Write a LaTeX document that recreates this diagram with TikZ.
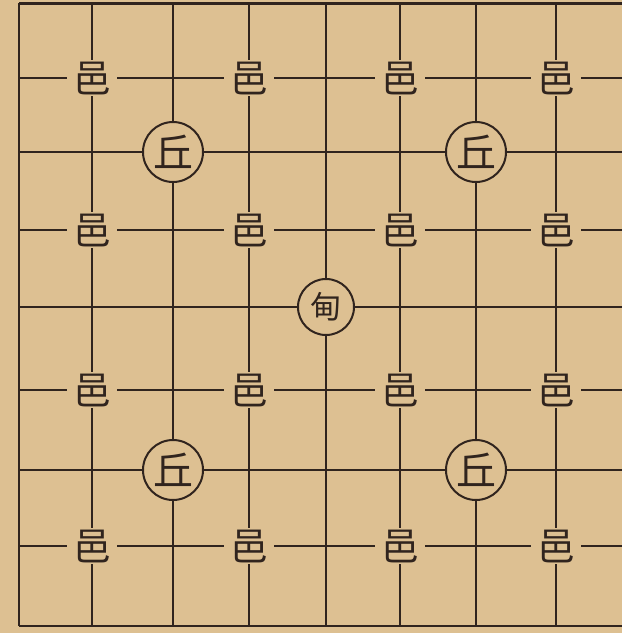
\documentclass[tikz,border=0pt]{standalone}
\usepackage{fontspec}
\newfontfamily\cjk{Noto Sans CJK SC}
\definecolor{papel}{RGB}{221,192,146}
\definecolor{tinta}{RGB}{48,36,30}

\begin{document}
\begin{tikzpicture}[x=1pt, y=-1pt, line width=2pt, color=tinta,
    yi/.style={fill=papel, inner xsep=6pt, inner ysep=2pt, font=\cjk\fontsize{38}{38}\selectfont},
    qiu/.style={circle, draw, fill=papel, minimum size=60pt, inner sep=0pt, font=\cjk\fontsize{40}{40}\selectfont},
    dian/.style={circle, draw, fill=papel, minimum size=56pt, inner sep=0pt, font=\cjk\fontsize{31}{31}\selectfont}]

        % Fondo
        \fill[papel] (0,0) rectangle (622,633);
        \useasboundingbox (0,0) rectangle (622,633);

        % Bordes
        \coordinate (tl) at (19,3);
        \coordinate (tr) at (622,3);
        \coordinate (bl) at (19,626);
        \coordinate (br) at (622,626);
        \draw[line width=3pt] (tl) -- (tr);
        \draw[line width=2.5pt] (tl) -- (bl);
        \draw[line width=1.5pt] (bl) -- (br);

        % Lineas verticales
        \foreach \x [count=\i] in {92,173,249,326,400,476,556} {
            \coordinate (t\i) at (\x,3);
            \coordinate (b\i) at (\x,626);
            \draw (t\i) -- (b\i);
        }

        % Lineas horizontales
        \foreach \y [count=\j] in {78,152,230,307,390,470,546} {
            \coordinate (l\j) at (19,\y);
            \coordinate (r\j) at (622,\y);
            \draw (l\j) -- (r\j);
        }

        % Nodos de los yi
        \foreach \x [count=\i] in {92,249,400,556}
            \foreach \y [count=\j] in {78,230,390,546}
                \node[yi] (yi-\i-\j) at (\x,\y) {邑};

        % Nodos de los qiu
        \node[qiu] (qiu1) at (173,152) {丘};
        \node[qiu] (qiu2) at (476,152) {丘};
        \node[qiu] (qiu3) at (173,470) {丘};
        \node[qiu] (qiu4) at (476,470) {丘};

        % Nodo central
        \node[dian] (dian) at (326,307) {甸};

    \end{tikzpicture}
\end{document}
